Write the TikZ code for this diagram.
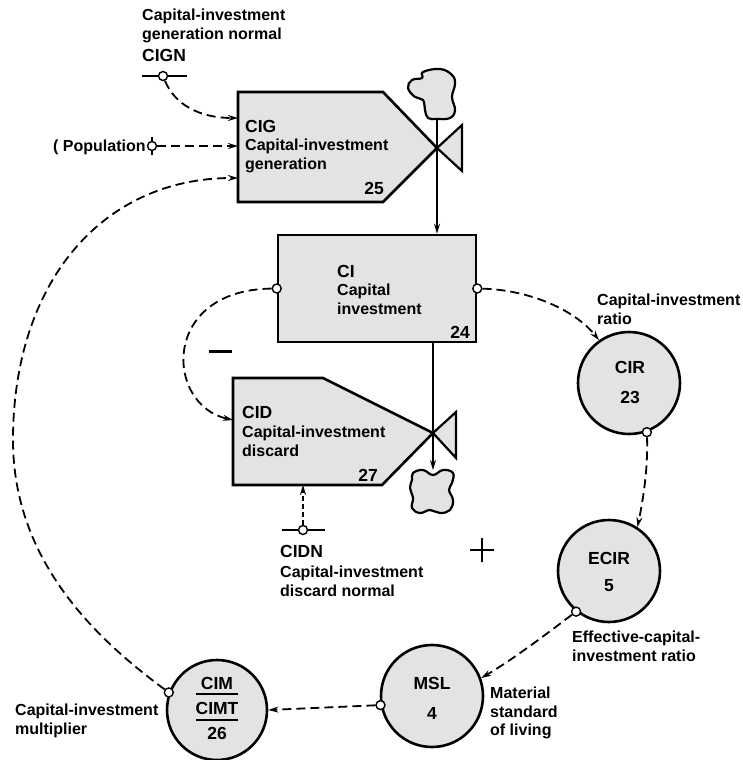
\documentclass[tikz,border=0pt]{standalone}
\usepackage{fontspec}
\setmainfont{Liberation Sans}
\usetikzlibrary{arrows.meta}
\newcommand\lbf{\fontsize{16}{18.5}\selectfont\bfseries}
\newcommand\cdf{\fontsize{17.5}{20}\selectfont\bfseries}
\begin{document}
\begin{tikzpicture}[x=1pt,y=-1pt,
  lbl/.style={font=\lbf, align=left, inner sep=0pt, anchor=north west},
  code/.style={font=\cdf, inner sep=0pt},
  shade/.style={fill=black!11},
  boxline/.style={draw, line width=2.6pt, line join=miter},
  aux/.style={circle, draw, line width=2.6pt, fill=black!11, minimum size=102pt, inner sep=0pt},
  pick/.style={circle, draw, line width=1.4pt, fill=white, minimum size=9pt, inner sep=0pt},
  info/.style={line width=1.8pt, dash pattern=on 9pt off 5pt, -{Stealth[length=10pt,width=6pt]}},
  flow/.style={line width=1.5pt, -{Stealth[length=10pt,width=6pt]}}
]
\fill[white] (0,0) rectangle (743,760);
\useasboundingbox (0,0) rectangle (743,760);

% ---------- named points ----------
\coordinate (cigX) at (437,148);
\coordinate (cidX) at (433,433);
\coordinate (cloudA) at (437,119);
\coordinate (cloudB) at (433,470);
\coordinate (cigIn1) at (238,118);
\coordinate (cigIn2) at (238,146);
\coordinate (cigIn3) at (238,178);
\coordinate (cidIn) at (233,420);
\coordinate (cidIn2) at (303,485);
\coordinate (arcL) at (13,440);

% ---------- CIG rate ----------
\path[boxline, shade] (238,92) -- (383,92) -- (cigX) -- (383,202) -- (238,202) -- cycle;
\path[boxline, shade, line width=2.2pt] (cigX) -- (462,125) -- (462,171) -- cycle;
\path[boxline, shade, line width=2.2pt] plot[smooth cycle, tension=0.7] coordinates {
 (423,72) (440,69) (452,75) (455,84) (452,97) (455,110) (450,118) (437,119)
 (428,118) (425,110) (423,100) (415,97) (408,88) (412,80) (422,78)};
\node[code, anchor=north west] (cigCode) at (245,120) {CIG};
\node[lbl] (cigName) at (245,139) {Capital-investment\\generation};
\node[code] (cigNum) at (374,188) {25};

% ---------- CI level ----------
\node[boxline, shade, rectangle, minimum width=198pt, minimum height=107pt, inner sep=0pt] (ci) at (377,288.5) {};
\node[code, anchor=north west] (ciCode) at (337,265) {CI};
\node[lbl] (ciName) at (337,284) {Capital\\investment};
\node[code] (ciNum) at (460,332) {24};
\draw[flow] (cloudA) -- (cigX |- ci.north);

% ---------- CID rate ----------
\path[boxline, shade] (233,378) -- (323,378) -- (cidX) -- (382,485) -- (233,485) -- cycle;
\path[boxline, shade, line width=2.2pt] (cidX) -- (456,412) -- (456,458) -- cycle;
\path[boxline, shade, line width=2.2pt] plot[smooth cycle, tension=0.7] coordinates {
 (413,473) (423,470) (433,475) (443,470) (453,473) (452,483) (449,490) (453,500)
 (450,510) (440,513) (430,510) (420,513) (412,508) (413,498) (410,488) (412,480)};
\draw[flow] (cidX |- ci.south) -- (cloudB);
\node[code, anchor=north west] (cidCode) at (242,406) {CID};
\node[lbl] (cidName) at (242,426) {Capital-investment\\discard};
\node[code] (cidNum) at (368,475) {27};

% ---------- auxiliaries ----------
\node[aux] (cir) at (629,383) {};
\node[code] (cirCode) at (630,367) {CIR};
\node[code] (cirNum) at (630,397) {23};
\node[aux] (ecir) at (609,571) {};
\node[code] (ecirCode) at (609,558) {ECIR};
\node[code] (ecirNum) at (609,586) {5};
\node[aux] (msl) at (432,696) {};
\node[code] (mslCode) at (432,683) {MSL};
\node[code] (mslNum) at (432,713) {4};
\node[aux, minimum size=100pt] (cim) at (217,710) {};
\node[code] (cimCode) at (217,683) {CIM};
\node[code] (cimtCode) at (217,708) {CIMT};
\node[code] (cimNum) at (217,733) {26};
\draw[line width=2.2pt] (196,694) -- (238,694);
\draw[line width=2.2pt] (196,720) -- (238,720);

% ---------- labels ----------
\node[lbl] (cignName) at (142,9) {Capital-investment\\generation normal};
\node[code, anchor=north west] (cignCode) at (142,49) {CIGN};
\node[font=\lbf, inner sep=0pt, anchor=base west] (pop) at (53,151) {( Population};
\node[code, anchor=north west] (cidnCode) at (280,545) {CIDN};
\node[lbl] (cidnName) at (280,566) {Capital-investment\\discard normal};
\node[lbl] (cirName) at (597,294) {Capital-investment\\ratio};
\node[lbl] (ecirName) at (572,631) {Effective-capital-\\investment ratio};
\node[lbl] (mslName) at (490,687) {Material\\standard\\of living};
\node[lbl] (cimName) at (15,704) {Capital-investment\\multiplier};

% ---------- constants ----------
\draw[line width=2.2pt] (142,76) -- (187,76);
\node[pick] (cignP) at (163,76) {};
\draw[line width=2.2pt] (282,530) -- (325,530);
\node[pick] (cidnP) at (303,530) {};
\draw[line width=1.4pt] (152,137) -- (152,155);
\node[pick] (popP) at (152,146) {};

% ---------- pick-offs ----------
\node[pick] (ciL) at (ci.west) {};
\node[pick] (ciR) at (ci.east) {};
\node[pick] (cirP) at (cir.-70) {};
\node[pick] (ecirP) at (ecir.231) {};
\node[pick] (mslP) at (msl.190) {};
\node[pick] (cimP) at (cim.160) {};

% ---------- information links ----------
\draw[info] (cignP) .. controls (175,105) and (200,118) .. (cigIn1);
\draw[info] (popP) -- (cigIn2);
\draw[info] (cimP) .. controls (95,638) and (13,560) .. (arcL) .. controls (13,285) and (100,178) .. (cigIn3);
\draw[info] (ciL) .. controls (160,290) and (165,405) .. (cidIn);
\draw[info, dash pattern=on 5pt off 3pt] (cidnP) -- (cidIn2);
\draw[info] (ciR) .. controls (530,290) and (575,310) .. (cir.125);
\draw[info] (cirP) .. controls (648,470) and (643,500) .. (ecir.57);
\draw[info] (ecirP) .. controls (545,635) and (515,658) .. (msl.20);
\draw[info] (mslP) -- (cim.east);

% ---------- polarity signs ----------
\draw[line width=3pt] (209,351) -- (232,351);
\draw[line width=2.5pt] (470,550) -- (494,550) (482,538) -- (482,562);
\end{tikzpicture}
\end{document}
